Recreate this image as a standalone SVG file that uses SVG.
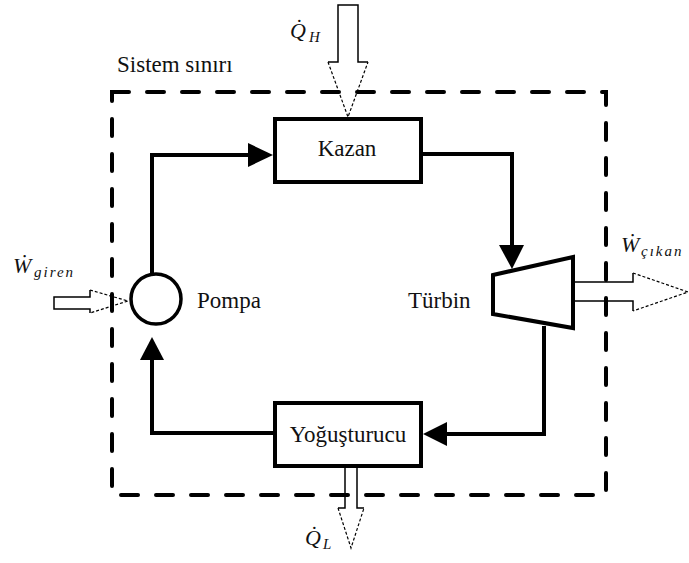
<svg xmlns="http://www.w3.org/2000/svg" width="689" height="563" viewBox="0 0 689 563">
<defs>
<style>
.box{fill:#fff;stroke:#000;stroke-width:4}
.conn{fill:none;stroke:#000;stroke-width:4}
.head{fill:#000;stroke:none}
.bound{fill:none;stroke:#000;stroke-width:4;stroke-dasharray:17 18;stroke-linecap:round}
.lbl{font-family:"Liberation Serif","Times New Roman",serif;font-size:23px;fill:#111}
.math{font-family:"Liberation Serif","Times New Roman",serif;font-style:italic;fill:#111}
.ashaft{fill:none;stroke:#000;stroke-width:1.5}
.adash{fill:none;stroke:#000;stroke-width:1.2;stroke-dasharray:3 2}
</style>
</defs>
<rect width="689" height="563" fill="#fff"/>

<g id="boundary">
<rect class="bound" x="112" y="92" width="494" height="403"/>
<text class="lbl" x="117" y="72" font-size="22">Sistem sınırı</text>
</g>

<g id="connectors">
<polyline class="conn" points="152,273 152,155 250,155"/>
<polygon class="head" points="248,143 273,155 248,167"/>
<polyline class="conn" points="422,154 512,154 512,246"/>
<polygon class="head" points="499,245 524,245 512,269"/>
<polyline class="conn" points="544,326 544,434 446,434"/>
<polygon class="head" points="447,422 447,446 423,434"/>
<polyline class="conn" points="273,433 152,433 152,358"/>
<polygon class="head" points="140,360 164,360 152,337"/>
</g>

<g id="kazan">
<rect class="box" x="275" y="119" width="146" height="63"/>
<text class="lbl" x="347" y="156" text-anchor="middle">Kazan</text>
</g>

<g id="yogusturucu">
<rect class="box" x="275" y="403" width="146" height="63"/>
<text class="lbl" x="348" y="442" text-anchor="middle">Yoğuşturucu</text>
</g>

<g id="pompa">
<circle cx="156" cy="299" r="25" fill="#fff" stroke="#000" stroke-width="3.5"/>
<text class="lbl" x="197" y="308">Pompa</text>
</g>

<g id="turbin">
<polygon points="493,275 573,257 573,328 493,314" fill="#fff" stroke="#000" stroke-width="4" stroke-linejoin="miter"/>
<text class="lbl" x="408" y="308">Türbin</text>
</g>

<g id="QH">
<polyline class="ashaft" points="328,62 338,62 338,5 358,5 358,62 368,62"/>
<polyline class="adash" points="328,62 348,117 368,62"/>
<text class="math" x="290" y="38" font-size="22">Q̇</text>
<text class="math" x="309" y="42" font-size="15">H</text>
</g>

<g id="QL">
<polyline class="ashaft" points="338,508 345,508 345,467 357,467 357,508 364,508"/>
<polyline class="adash" points="338,508 351,548 364,508"/>
<text class="math" x="305" y="545" font-size="22">Q̇</text>
<text class="math" x="323" y="549" font-size="15">L</text>
</g>

<g id="Wgiren">
<polyline class="ashaft" points="90,290 90,297 54,297 54,309 90,309 90,313"/>
<polyline class="adash" points="90,290 128,301 90,313"/>
<text class="math" x="13" y="273" font-size="22">Ẇ</text>
<text class="math" x="34" y="277" font-size="15" letter-spacing="2">giren</text>
</g>

<g id="Wcikan">
<polyline class="ashaft" points="633,273 633,282 573,282"/>
<polyline class="ashaft" points="573,301 633,301 633,311"/>
<polyline class="adash" points="633,273 688,292 633,311"/>
<text class="math" x="621" y="252" font-size="22">Ẇ</text>
<text class="math" x="641" y="256" font-size="15" letter-spacing="2">çıkan</text>
</g>
</svg>
